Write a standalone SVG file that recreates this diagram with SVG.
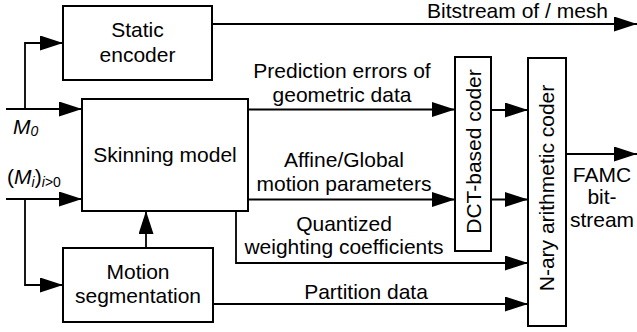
<svg xmlns="http://www.w3.org/2000/svg" width="637" height="332" viewBox="0 0 637 332">
  <style>
    .box { fill: #ffffff; stroke: #000000; stroke-width: 2; }
    .wire { fill: none; stroke: #000000; stroke-width: 1.8; }
    .arrow { marker-end: url(#head); }
    text { font-family: "Liberation Sans", Arial, sans-serif; font-size: 21px; fill: #000000; }
    .mid { text-anchor: middle; }
    .sub { font-size: 14px; }
    .it { font-style: italic; }
  </style>
  <defs>
    <marker id="head" markerUnits="userSpaceOnUse" markerWidth="23" markerHeight="15" refX="23" refY="7.5" orient="auto">
      <path d="M0,0 L23,7.5 L0,15 Z" fill="#000000"/>
    </marker>
  </defs>
  <rect width="637" height="332" fill="#ffffff"/>

  <!-- connectors -->
  <g id="connectors">
    <!-- M0 input and branch to the static encoder -->
    <path class="wire arrow" d="M6,109 H82"/>
    <path class="wire arrow" d="M25,109 V43 H63"/>
    <!-- (Mi) input and branch to motion segmentation -->
    <path class="wire arrow" d="M6,199 H82"/>
    <path class="wire arrow" d="M25,199 V285 H63"/>
    <!-- static encoder output -->
    <path class="wire arrow" d="M212,24 H637"/>
    <!-- motion segmentation feeds the skinning model -->
    <path class="wire arrow" d="M146,248 V211"/>
    <!-- skinning model outputs -->
    <path class="wire arrow" d="M248,109.5 H455"/>
    <path class="wire arrow" d="M248,199.5 H455"/>
    <path class="wire arrow" d="M236,211 V263 H528"/>
    <!-- partition data -->
    <path class="wire arrow" d="M213,304 H528"/>
    <!-- DCT coder into arithmetic coder -->
    <path class="wire arrow" d="M491,110 H528"/>
    <path class="wire arrow" d="M491,199.5 H528"/>
    <!-- final bitstream -->
    <path class="wire arrow" d="M566,154 H637"/>

    <!-- connector labels -->
    <text x="608" y="18" text-anchor="end">Bitstream of / mesh</text>
    <text class="mid" x="342" y="78">Prediction errors of</text>
    <text class="mid" x="342" y="102">geometric data</text>
    <text class="mid" x="344" y="167">Affine/Global</text>
    <text class="mid" x="344" y="191">motion parameters</text>
    <text class="mid" x="344" y="231">Quantized</text>
    <text class="mid" x="344" y="254">weighting coefficients</text>
    <text class="mid" x="366" y="299">Partition data</text>
    <text class="mid" x="602" y="182">FAMC</text>
    <text class="mid" x="602" y="204">bit-</text>
    <text class="mid" x="602" y="227">stream</text>
    <text x="13" y="134"><tspan class="it">M</tspan><tspan class="it sub" dy="2">0</tspan></text>
    <text x="7" y="184">(<tspan class="it">M</tspan><tspan class="it sub" dy="3">i</tspan><tspan dy="-3">)</tspan><tspan class="it sub" dy="3">i&gt;</tspan><tspan class="sub">0</tspan></text>
  </g>

  <g id="static-encoder">
    <rect class="box" x="63" y="6" width="149" height="74"/>
    <text class="mid" x="137.5" y="37">Static</text>
    <text class="mid" x="137.5" y="62">encoder</text>
  </g>

  <g id="skinning-model">
    <rect class="box" x="82" y="99" width="166" height="112"/>
    <text class="mid" x="165" y="162">Skinning model</text>
  </g>

  <g id="motion-segmentation">
    <rect class="box" x="63" y="248" width="150" height="74"/>
    <text class="mid" x="138" y="279">Motion</text>
    <text class="mid" x="138" y="303">segmentation</text>
  </g>

  <g id="dct-coder">
    <rect class="box" x="455" y="57" width="36" height="194"/>
    <text class="mid" transform="translate(481,151.5) rotate(-90)">DCT-based coder</text>
  </g>

  <g id="arithmetic-coder">
    <rect class="box" x="528" y="58" width="38" height="268"/>
    <text class="mid" transform="translate(554,188) rotate(-90)">N-ary arithmetic coder</text>
  </g>
</svg>
